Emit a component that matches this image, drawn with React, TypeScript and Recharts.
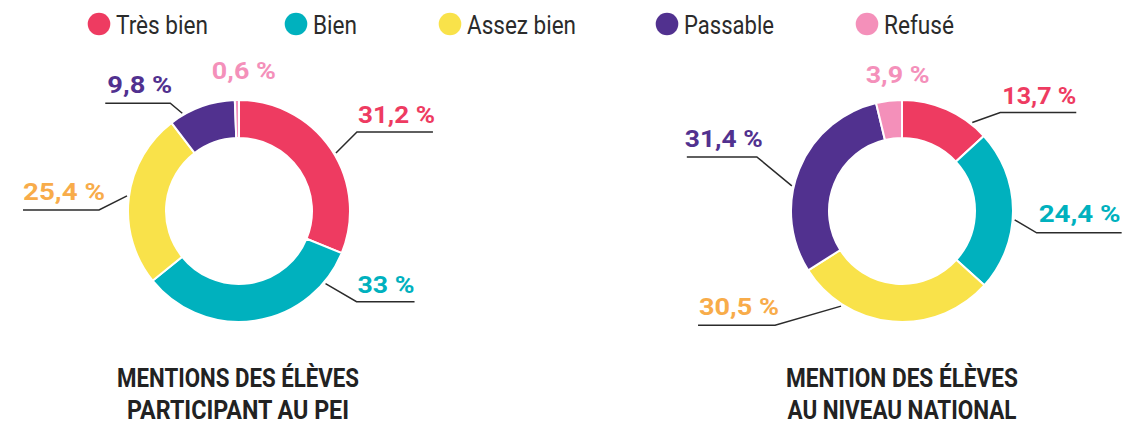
import { PieChart, Pie, Cell } from "recharts"

const categories = ["Très bien", "Bien", "Assez bien", "Passable", "Refusé"]
const peiValues = [31.2, 33, 25.4, 9.8, 0.6]
const nationalValues = [13.7, 24.4, 30.5, 31.4, 3.9]
const peiLabels = ["31,2 %", "33 %", "25,4 %", "9,8 %", "0,6 %"]
const nationalLabels = ["13,7 %", "24,4 %", "30,5 %", "31,4 %", "3,9 %"]
const peiTitle = ["MENTIONS DES ÉLÈVES", "PARTICIPANT AU PEI"]
const nationalTitle = ["MENTION DES ÉLÈVES", "AU NIVEAU NATIONAL"]

const sliceColors = ["#ee3b61", "#00b1be", "#f9e24a", "#51318f", "#f490ba"]
const labelColors = ["#ee3b61", "#00b1be", "#f8ac4a", "#51318f", "#f490ba"]

// leader-line layout: frac = where along the slice the line starts
type LabelLayout = { frac: number; ex?: number; ey?: number; len?: number; tdx: number; tdy: number; tw: number }

const peiLayout: LabelLayout[] = [
  { frac: 0.526, ex: 21, ey: -21, len: 76, tdx: 1, tdy: -9, tw: 77 },
  { frac: 0.149, ex: 31, ey: 18, len: 58, tdx: 1, tdy: -9, tw: 57 },
  { frac: 0.509, ex: -28, ey: 14, len: -76, tdx: 0, tdy: -10, tw: 82 },
  { frac: 0.207, ex: -12, ey: -10, len: -65, tdx: 2, tdy: -10, tw: 65 },
  { frac: 0.5, tdx: 7, tdy: -19, tw: 64 },
]
const nationalLayout: LabelLayout[] = [
  { frac: 0.81, ex: 28, ey: -10, len: 76, tdx: 2, tdy: -9, tw: 74 },
  { frac: 0.556, ex: 22, ey: 13, len: 85, tdx: 2, tdy: -11, tw: 82 },
  { frac: 0.763, ex: -66, ey: 19, len: -77, tdx: 1, tdy: -10, tw: 80 },
  { frac: 0.415, ex: -35, ey: -29, len: -70, tdx: -2, tdy: -10, tw: 78 },
  { frac: 0.5, tdx: 9, tdy: -16, tw: 64 },
]

const legendItems = [
  { cx: 99, tx: 116, tw: 92 },
  { cx: 296, tx: 313, tw: 44 },
  { cx: 450, tx: 467, tw: 109 },
  { cx: 667, tx: 684, tw: 90 },
  { cx: 867, tx: 884, tw: 70 },
]

const FONT = "Roboto, 'Noto Sans', sans-serif"
const RAD = Math.PI / 180

function sliceSpans(values: number[]) {
  const total = values.reduce((a, b) => a + b, 0)
  let acc = 90
  return values.map((v) => {
    const start = acc
    acc -= (v / total) * 360
    return [start, acc]
  })
}

function makeLabel(values: number[], texts: string[], layout: LabelLayout[]) {
  const spans = sliceSpans(values)
  return (props: any) => {
    const { cx, cy, outerRadius, index } = props
    const [a0, a1] = spans[index]
    const L = layout[index]
    const ang = (a0 + (a1 - a0) * L.frac) * RAD
    const ax = cx + (outerRadius + 2) * Math.cos(ang)
    const ay = cy - (outerRadius + 2) * Math.sin(ang)
    const color = labelColors[index]
    if (L.ex === undefined) {
      return (
        <text key={`l${index}`} x={ax + L.tdx} y={ay + L.tdy} textAnchor="middle" fill={color}
          fontFamily={FONT} fontWeight={700} fontSize={24} textLength={L.tw} lengthAdjust="spacingAndGlyphs">
          {texts[index]}
        </text>
      )
    }
    const bx = ax + L.ex
    const by = ay + (L.ey ?? 0)
    const endX = bx + (L.len ?? 0)
    const left = Math.min(bx, endX)
    return (
      <g key={`l${index}`}>
        <polyline points={`${ax},${ay} ${bx},${by} ${endX},${by}`} fill="none" stroke="#2b2b2b" strokeWidth={1.5} />
        <text x={left + L.tdx} y={by + L.tdy} fill={color} fontFamily={FONT} fontWeight={700} fontSize={24}
          textLength={L.tw} lengthAdjust="spacingAndGlyphs">
          {texts[index]}
        </text>
      </g>
    )
  }
}

const peiData = categories.map((name, i) => ({ name, value: peiValues[i] }))
const nationalData = categories.map((name, i) => ({ name, value: nationalValues[i] }))

export default function App() {
  return (
    <div style={{ position: "fixed", top: 0, left: 0, width: 1137, height: 428, background: "#fff" }}>
      <div style={{ position: "absolute", top: 0, left: 0 }}>
        <PieChart width={1137} height={428} margin={{ top: 0, right: 0, bottom: 0, left: 0 }}>
          <Pie
            data={peiData}
            dataKey="value"
            cx={239}
            cy={211}
            innerRadius={73}
            outerRadius={111}
            startAngle={90}
            endAngle={-270}
            stroke="#fff"
            strokeWidth={2}
            labelLine={false}
            label={makeLabel(peiValues, peiLabels, peiLayout)}
            isAnimationActive={false}
          >
            {peiData.map((d, i) => (
              <Cell key={d.name} fill={sliceColors[i]} />
            ))}
          </Pie>
          <Pie
            data={nationalData}
            dataKey="value"
            cx={902}
            cy={211}
            innerRadius={73}
            outerRadius={111}
            startAngle={90}
            endAngle={-270}
            stroke="#fff"
            strokeWidth={2}
            labelLine={false}
            label={makeLabel(nationalValues, nationalLabels, nationalLayout)}
            isAnimationActive={false}
          >
            {nationalData.map((d, i) => (
              <Cell key={d.name} fill={sliceColors[i]} />
            ))}
          </Pie>
        </PieChart>
      </div>
      <svg width={1137} height={428} style={{ position: "absolute", top: 0, left: 0, pointerEvents: "none" }}>
        {legendItems.map((it, i) => (
          <g key={categories[i]}>
            <circle cx={it.cx} cy={24} r={11.3} fill={sliceColors[i]} />
            <text x={it.tx} y={34} fill="#2b2b2b" fontFamily={FONT} fontSize={26} textLength={it.tw}
              lengthAdjust="spacingAndGlyphs">
              {categories[i]}
            </text>
          </g>
        ))}
        {[
          { lines: peiTitle, x: 238, widths: [242, 222] },
          { lines: nationalTitle, x: 902, widths: [232, 229] },
        ].map((t) =>
          t.lines.map((line, j) => (
            <text key={line} x={t.x} y={387 + j * 31.5} textAnchor="middle" fill="#222" fontFamily={FONT}
              fontWeight={700} fontSize={25} textLength={t.widths[j]} lengthAdjust="spacingAndGlyphs">
              {line}
            </text>
          ))
        )}
      </svg>
    </div>
  )
}
